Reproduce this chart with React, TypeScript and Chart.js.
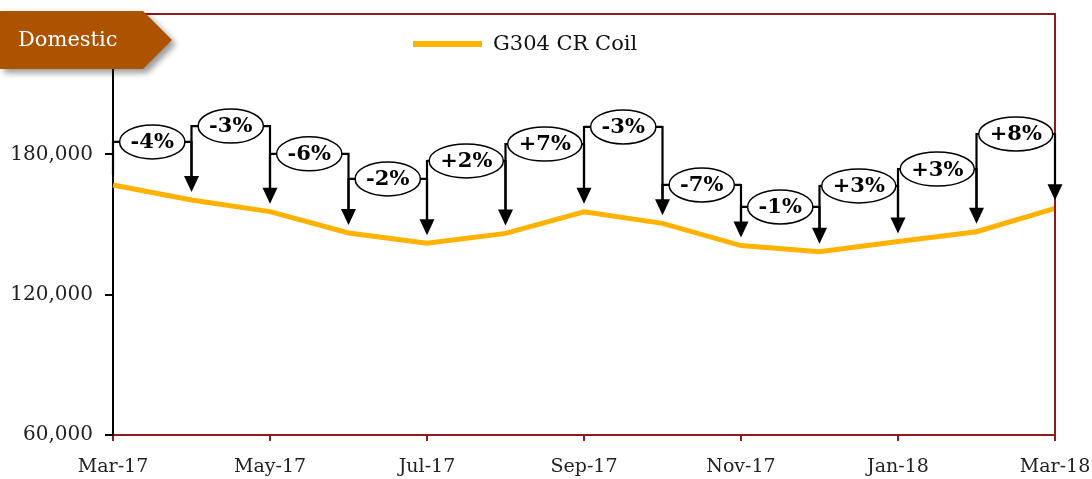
import React, { useEffect, useRef } from "react";
import { Chart, registerables } from "chart.js";

Chart.register(...registerables);

const months = ["Mar-17", "Apr-17", "May-17", "Jun-17", "Jul-17", "Aug-17", "Sep-17", "Oct-17", "Nov-17", "Dec-17", "Jan-18", "Feb-18", "Mar-18"];
const coilPrices = [166900, 160500, 155500, 146400, 142000, 146200, 155400, 150500, 141000, 138400, 142700, 146900, 156900];
const changeLabels = ["-4%", "-3%", "-6%", "-2%", "+2%", "+7%", "-3%", "-7%", "-1%", "+3%", "+3%", "+8%"];
const labelLevels = [185300, 192100, 180200, 169500, 177200, 184400, 191700, 166900, 157500, 166500, 173700, 188700];
const yMin = 60000;
const yMax = 240000;
const yStep = 60000;
const seriesName = "G304 CR Coil";
const badgeText = "Domestic";

const FONT = "'DejaVu Serif', serif";
const ORANGE = "#FFB300";
const DARKRED = "#8E1B1B";

const overlayPlugin = {
  id: "overlay",
  afterDraw(chart: any) {
    const { ctx, chartArea } = chart;
    const xs = chart.scales.x;
    const ys = chart.scales.y;
    ctx.save();

    // top & right border
    ctx.strokeStyle = DARKRED;
    ctx.lineWidth = 2;
    ctx.beginPath();
    ctx.moveTo(chartArea.left, chartArea.top);
    ctx.lineTo(chartArea.right, chartArea.top);
    ctx.lineTo(chartArea.right, chartArea.bottom);
    ctx.stroke();

    // annotations
    const px = coilPrices.map((_, i) => xs.getPixelForValue(i));
    const py = coilPrices.map((v) => ys.getPixelForValue(v));
    const gap = 8;
    const headH = 16;
    const headW = 7.5;
    ctx.strokeStyle = "#000";
    ctx.fillStyle = "#000";
    for (let j = 0; j < changeLabels.length; j++) {
      const ly = ys.getPixelForValue(labelLevels[j]);
      const x0 = px[j];
      const x1 = px[j + 1];
      ctx.lineWidth = 2.2;
      ctx.beginPath();
      ctx.moveTo(x0, ly);
      ctx.lineTo(x1, ly);
      if (j === 0) {
        ctx.moveTo(x0, ly - 1);
        ctx.lineTo(x0, ly + 33);
      } else {
        ctx.moveTo(x0, ly - 1);
        ctx.lineTo(x0, py[j] - gap - headH + 1);
      }
      ctx.moveTo(x1, ly - 1);
      ctx.lineTo(x1, py[j + 1] - gap - headH + 1);
      ctx.stroke();
      // arrow head
      const tip = py[j + 1] - gap;
      ctx.beginPath();
      ctx.moveTo(x1, tip);
      ctx.lineTo(x1 - headW, tip - headH);
      ctx.lineTo(x1 + headW, tip - headH);
      ctx.closePath();
      ctx.fill();

      // ellipse + label
      ctx.font = `bold 21px ${FONT}`;
      const tw = ctx.measureText(changeLabels[j]).width;
      const rx = Math.min((tw + 22) / 2, (x1 - x0) / 2);
      const ry = 17;
      const cx = (x0 + x1) / 2;
      ctx.beginPath();
      ctx.ellipse(cx, ly, rx, ry, 0, 0, Math.PI * 2);
      ctx.fillStyle = "#fff";
      ctx.fill();
      ctx.lineWidth = 1.5;
      ctx.stroke();
      ctx.fillStyle = "#000";
      ctx.textAlign = "center";
      ctx.textBaseline = "middle";
      ctx.fillText(changeLabels[j], cx, ly + 1);
    }

    // legend
    ctx.strokeStyle = ORANGE;
    ctx.lineWidth = 6;
    ctx.beginPath();
    ctx.moveTo(413, 44);
    ctx.lineTo(482, 44);
    ctx.stroke();
    ctx.fillStyle = "#111";
    ctx.font = `21px ${FONT}`;
    ctx.textAlign = "left";
    ctx.textBaseline = "middle";
    ctx.fillText(seriesName, 493, 45);

    // badge
    ctx.save();
    ctx.shadowColor = "rgba(0,0,0,0.4)";
    ctx.shadowOffsetX = 4;
    ctx.shadowOffsetY = 4;
    ctx.shadowBlur = 6;
    ctx.fillStyle = "#AD5300";
    ctx.beginPath();
    ctx.moveTo(0, 11);
    ctx.lineTo(143, 11);
    ctx.lineTo(172, 40);
    ctx.lineTo(143, 69);
    ctx.lineTo(0, 69);
    ctx.closePath();
    ctx.fill();
    ctx.restore();
    ctx.fillStyle = "#fff";
    ctx.font = `21px ${FONT}`;
    ctx.textAlign = "left";
    ctx.textBaseline = "middle";
    ctx.fillText(badgeText, 18, 41);

    ctx.restore();
  },
};

export default function App() {
  const ref = useRef<HTMLCanvasElement | null>(null);
  useEffect(() => {
    document.body.style.margin = "0";
    if (!ref.current) return;
    const chart = new Chart(ref.current, {
      type: "line",
      data: {
        labels: months,
        datasets: [
          {
            label: seriesName,
            data: coilPrices,
            borderColor: ORANGE,
            backgroundColor: ORANGE,
            borderWidth: 5,
            pointRadius: 0,
            tension: 0,
            clip: false as any,
          },
        ],
      },
      options: {
        animation: false,
        responsive: false,
        devicePixelRatio: 1,
        layout: { padding: { top: 14, right: 37, left: 0, bottom: 0 } },
        plugins: { legend: { display: false }, tooltip: { enabled: false } },
        scales: {
          x: {
            type: "category",
            offset: false,
            afterFit: (s: any) => {
              s.height = 44;
              s.paddingLeft = 0;
              s.paddingRight = 0;
            },
            grid: { drawOnChartArea: false, drawTicks: true, tickLength: 6, color: DARKRED, lineWidth: 2 },
            border: { display: true, color: DARKRED, width: 2 },
            ticks: {
              autoSkip: false,
              maxRotation: 0,
              padding: 15,
              color: "#222",
              font: { family: FONT, size: 19 },
              callback: (_v: any, i: number) => (i % 2 === 0 ? months[i] : null),
            },
          },
          y: {
            min: yMin,
            max: yMax,
            afterFit: (s: any) => {
              s.width = 113;
              s.paddingTop = 0;
              s.paddingBottom = 0;
            },
            grid: { drawOnChartArea: false, drawTicks: true, tickLength: 8, color: "#000", lineWidth: 2 },
            border: { display: true, color: "#000", width: 2 },
            ticks: {
              stepSize: yStep,
              padding: 12,
              color: "#222",
              font: { family: FONT, size: 20 },
              callback: (v: any) => (v >= yMax ? null : Number(v).toLocaleString("en-US")),
            },
          },
        },
      },
      plugins: [overlayPlugin],
    });
    return () => chart.destroy();
  }, []);
  return (
    <div style={{ width: 1092, height: 479 }}>
      <canvas ref={ref} width={1092} height={479} style={{ display: "block" }} />
    </div>
  );
}
